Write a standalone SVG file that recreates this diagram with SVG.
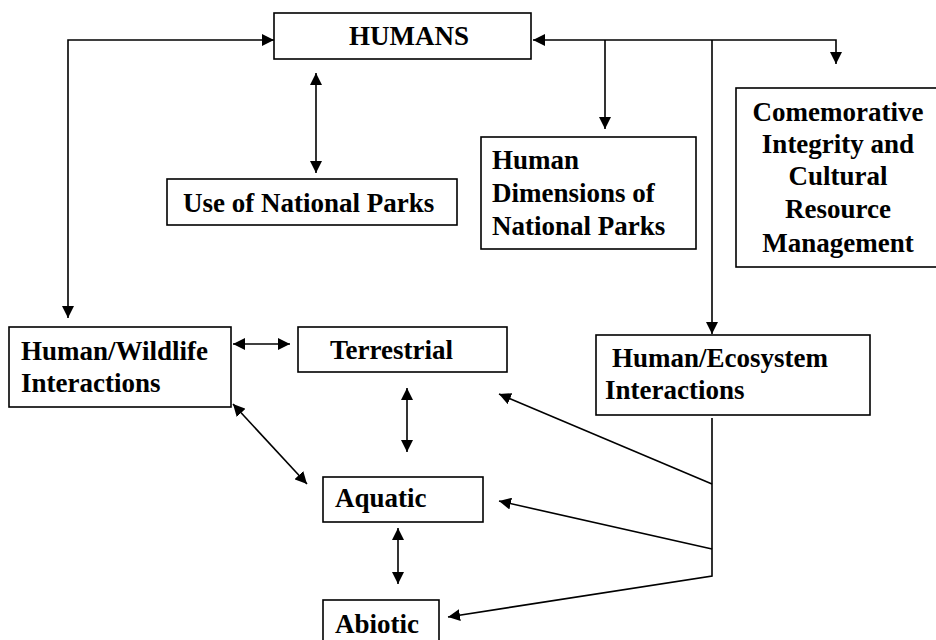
<svg xmlns="http://www.w3.org/2000/svg" width="936" height="640" viewBox="0 0 936 640">
<style>
.box{fill:#fff;stroke:#000;stroke-width:1.6}
.t{font-family:"Liberation Serif","Times New Roman",serif;font-weight:bold;font-size:27px;fill:#000}
.c{fill:none;stroke:#000;stroke-width:1.6}
.a{marker-end:url(#arr)}
.b{marker-start:url(#arr);marker-end:url(#arr)}
</style>
<defs>
<marker id="arr" markerUnits="userSpaceOnUse" markerWidth="12" markerHeight="12" viewBox="0 0 12 12" refX="12" refY="6" orient="auto-start-reverse">
<path d="M0,0 L12,6 L0,12 z" fill="#000"/>
</marker>
</defs>
<rect width="936" height="640" fill="#fff"/>
<g id="connectors">
<path class="c b" d="M68,318 L68,40 L274,40"/>
<path class="c b" d="M316,73 L316,173"/>
<path class="c b" d="M533,40 L836,40 L836,64"/>
<path class="c a" d="M605,40 L605,129"/>
<path class="c a" d="M712,40 L712,334"/>
<path class="c b" d="M233,344 L290,344"/>
<path class="c b" d="M407,388 L407,452"/>
<path class="c b" d="M233,404 L307,484"/>
<path class="c b" d="M398,528 L398,584"/>
<path class="c a" d="M712,418 L712,576 L448,617"/>
<path class="c a" d="M712,484 L499,394"/>
<path class="c a" d="M712,549 L499,501"/>
</g>
<g id="humans">
<rect class="box" x="274" y="13" width="257" height="46"/>
<text class="t" x="349" y="45">HUMANS</text>
</g>
<g id="use-of-national-parks">
<rect class="box" x="167" y="179" width="290" height="46"/>
<text class="t" x="183" y="212">Use of National Parks</text>
</g>
<g id="human-dimensions">
<rect class="box" x="481" y="137" width="215" height="112"/>
<text class="t" x="492" y="169">Human</text>
<text class="t" x="492" y="202">Dimensions of</text>
<text class="t" x="492" y="235">National Parks</text>
</g>
<g id="comemorative">
<rect class="box" x="736" y="88" width="202" height="179"/>
<text class="t" x="838" y="121" text-anchor="middle">Comemorative</text>
<text class="t" x="838" y="153" text-anchor="middle">Integrity and</text>
<text class="t" x="838" y="185" text-anchor="middle">Cultural</text>
<text class="t" x="838" y="218" text-anchor="middle">Resource</text>
<text class="t" x="838" y="252" text-anchor="middle">Management</text>
</g>
<g id="human-wildlife">
<rect class="box" x="9" y="327" width="222" height="80"/>
<text class="t" x="21" y="360">Human/Wildlife</text>
<text class="t" x="21" y="392">Interactions</text>
</g>
<g id="terrestrial">
<rect class="box" x="298" y="327" width="209" height="45"/>
<text class="t" x="330" y="359">Terrestrial</text>
</g>
<g id="human-ecosystem">
<rect class="box" x="596" y="335" width="274" height="80"/>
<text class="t" x="612" y="367">Human/Ecosystem</text>
<text class="t" x="605" y="399">Interactions</text>
</g>
<g id="aquatic">
<rect class="box" x="323" y="477" width="160" height="45"/>
<text class="t" x="335" y="507">Aquatic</text>
</g>
<g id="abiotic">
<rect class="box" x="323" y="600" width="116" height="50"/>
<text class="t" x="335" y="633">Abiotic</text>
</g>
</svg>
